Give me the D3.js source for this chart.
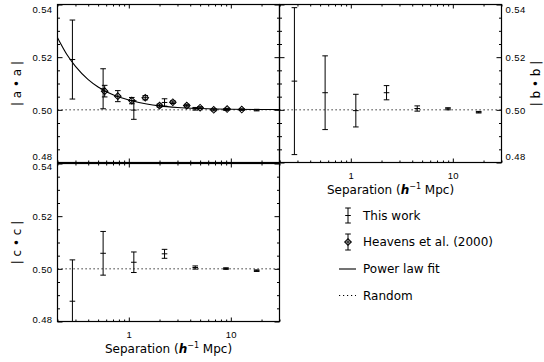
<!DOCTYPE html>
<html>
<head>
<meta charset="utf-8">
<script src="https://cdn.jsdelivr.net/npm/d3@7"></script>
<style>
  body { margin: 0; background: #fff; }
  svg { display: block; font-family: "DejaVu Sans", sans-serif; }
  .tick line { stroke: #000; }
  .tick text { font-size: 9.5px; letter-spacing: 0.4px; fill: #000; }
</style>
</head>
<body>
<div id="chart"></div>
<script>
// separations (h^-1 Mpc) of this work's bins
var sepThisWork = [0.28, 0.56, 1.12, 2.24, 4.48, 8.96, 17.92];

var aaThisWork    = [0.5191, 0.5080, 0.4999, 0.5028, 0.5004, 0.5001, 0.4999];
var aaThisWorkErr = [0.0150, 0.0076, 0.0035, 0.0014, 0.0005, 0.0003, 0.0003];

var bbThisWork    = [0.5109, 0.5065, 0.4997, 0.5065, 0.5005, 0.5004, 0.4991];
var bbThisWorkErr = [0.0279, 0.0140, 0.0062, 0.0027, 0.0010, 0.0004, 0.0003];

var ccThisWork    = [0.4877, 0.5059, 0.5025, 0.5057, 0.5005, 0.5001, 0.4993];
var ccThisWorkErr = [0.0157, 0.0083, 0.0039, 0.0017, 0.0006, 0.0003, 0.0003];

// Heavens et al. (2000), |a.a| only
var sepHeavens   = [0.58, 0.78, 1.07, 1.45, 2.0, 2.7, 3.7, 5.0, 6.8, 9.2, 12.8];
var aaHeavens    = [0.5071, 0.5052, 0.5035, 0.5046, 0.5016, 0.5029, 0.5016, 0.5008, 0.5000, 0.5003, 0.5001];
var aaHeavensErr = [0.0022, 0.0021, 0.0012, 0.0008, 0.0006, 0.0005, 0.0005, 0.0004, 0.0004, 0.0003, 0.0003];

// power law fit
var fitSep = [0.2, 0.25, 0.3, 0.4, 0.5, 0.7, 1, 1.5, 2, 3, 5, 10, 30];
var fitAA  = [0.5274, 0.5207, 0.5165, 0.5115, 0.5087, 0.5057, 0.5037, 0.5022, 0.5015, 0.5009, 0.5005, 0.5002, 0.5001];

var randomLevel = 0.5;

var yTicks = [0.48, 0.50, 0.52, 0.54];
var yTickLabels = ["0.48", "0.50", "0.52", "0.54"];
var yMinorTicks = [0.485, 0.49, 0.495, 0.505, 0.51, 0.515, 0.525, 0.53, 0.535];
var xTicks = [1, 10];
var xTickLabels = ["1", "10"];
var xMinorTicks = [0.2, 0.3, 0.4, 0.5, 0.6, 0.7, 0.8, 0.9, 2, 3, 4, 5, 6, 7, 8, 9, 20, 30];

var legendNames = ["This work", "Heavens et al. (2000)", "Power law fit", "Random"];

var W = 544, H = 362;
var pw = 222, ph = 158;

var svg = d3.select("#chart").append("svg")
            .attr("width", W)
            .attr("height", H);

var panels = [
   {x0: 57.5,  y0: 4.5,   vals: aaThisWork, errs: aaThisWorkErr, title: "| a \u2022 a |",
    side: "left", xLabels: false, heavens: true, top: true},
   {x0: 279.5, y0: 4.5,   vals: bbThisWork, errs: bbThisWorkErr, title: "| b \u2022 b |",
    side: "right", xLabels: true, heavens: false, top: true},
   {x0: 57.5,  y0: 163.5, vals: ccThisWork, errs: ccThisWorkErr, title: "| c \u2022 c |",
    side: "left", xLabels: true, heavens: false, top: false}
];

var errorBar = function(g, x, y, yLo, yHi, cap) {
   var p = d3.path();
   p.moveTo(x, yLo); p.lineTo(x, yHi);
   p.moveTo(x - cap, yLo); p.lineTo(x + cap, yLo);
   p.moveTo(x - cap, yHi); p.lineTo(x + cap, yHi);
   p.moveTo(x - cap, y); p.lineTo(x + cap, y);
   g.append("path")
      .attr("d", p.toString())
      .attr("stroke", "black")
      .attr("stroke-width", 1)
      .attr("fill", "none");
}

panels.forEach(function(pn, i) {
   var x = d3.scaleLog().domain([0.2, 30]).range([pn.x0, pn.x0 + pw]);
   var y = d3.scaleLinear().domain([0.48, 0.54]).range([pn.y0 + ph, pn.y0]);
   var g = svg.append("g");

   var clipId = "clip" + i;
   svg.append("clipPath").attr("id", clipId)
      .append("rect")
      .attr("x", pn.x0).attr("y", pn.y0)
      .attr("width", pw).attr("height", ph);

   // ticks on all four sides, pointing inward
   var addAxis = function(axis, tx, ty) {
      var a = g.append("g")
         .attr("transform", "translate(" + tx + "," + ty + ")")
         .call(axis);
      a.select(".domain").remove();
      return a;
   };
   addAxis(d3.axisBottom(x).tickValues(xMinorTicks).tickSize(-2).tickFormat(""), 0, pn.y0 + ph);
   addAxis(d3.axisTop(x).tickValues(xMinorTicks).tickSize(-2).tickFormat(""), 0, pn.y0);
   addAxis(d3.axisTop(x).tickValues(xTicks).tickSize(-4).tickFormat(""), 0, pn.y0);
   addAxis(d3.axisBottom(x).tickValues(xTicks).tickSize(-4)
            .tickPadding(9.5)
            .tickFormat(function(d, k) { return pn.xLabels ? xTickLabels[k] : ""; }),
           0, pn.y0 + ph);

   addAxis(d3.axisLeft(y).tickValues(yMinorTicks).tickSize(-2.5).tickFormat(""), pn.x0, 0);
   addAxis(d3.axisRight(y).tickValues(yMinorTicks).tickSize(-2.5).tickFormat(""), pn.x0 + pw, 0);
   var labelFmt = function(d, k) { return yTickLabels[k]; };
   var yl, yr;
   if (pn.side === "left") {
      yl = addAxis(d3.axisLeft(y).tickValues(yTicks).tickSize(-5).tickPadding(5).tickFormat(labelFmt), pn.x0, 0);
      yr = addAxis(d3.axisRight(y).tickValues(yTicks).tickSize(-5).tickFormat(""), pn.x0 + pw, 0);
   } else {
      yl = addAxis(d3.axisLeft(y).tickValues(yTicks).tickSize(-5).tickFormat(""), pn.x0, 0);
      yr = addAxis(d3.axisRight(y).tickValues(yTicks).tickSize(-5).tickPadding(4).tickFormat(labelFmt), pn.x0 + pw, 0);
   }
   // end labels nudged inward, as in the original
   [yl, yr].forEach(function(a) {
      a.selectAll(".tick text")
       .attr("dy", function(d) {
          if (d === 0.54) return pn.top ? "0.8em" : "0.6em";
          if (d === 0.48) return pn.top ? "-0.3em" : "0.1em";
          return "0.35em";
       });
   });

   // frame
   g.append("rect")
      .attr("x", pn.x0).attr("y", pn.y0)
      .attr("width", pw).attr("height", ph)
      .attr("fill", "none")
      .attr("stroke", "black")
      .attr("stroke-width", 1.2);

   var inner = g.append("g").attr("clip-path", "url(#" + clipId + ")");

   // random level
   inner.append("line")
      .attr("x1", pn.x0).attr("x2", pn.x0 + pw)
      .attr("y1", y(randomLevel)).attr("y2", y(randomLevel))
      .attr("stroke", "black")
      .attr("stroke-width", 1)
      .attr("stroke-dasharray", "1.2,2.8");

   if (pn.heavens) {
      var line = d3.line()
         .x(function(d, k) { return x(fitSep[k]); })
         .y(function(d) { return y(d); })
         .curve(d3.curveMonotoneX);
      inner.append("path")
         .attr("d", line(fitAA))
         .attr("fill", "none")
         .attr("stroke", "black")
         .attr("stroke-width", 1.1);

      sepHeavens.forEach(function(s, k) {
         var cx = x(s), cy = y(aaHeavens[k]);
         errorBar(inner, cx, cy, y(aaHeavens[k] - aaHeavensErr[k]), y(aaHeavens[k] + aaHeavensErr[k]), 2.8);
         inner.append("path")
            .attr("d", d3.symbol(d3.symbolSquare, 22)())
            .attr("transform", "translate(" + cx + "," + cy + ") rotate(45)")
            .attr("fill", "none")
            .attr("stroke", "black")
            .attr("stroke-width", 1);
      });
   }

   sepThisWork.forEach(function(s, k) {
      var v = pn.vals[k], e = pn.errs[k];
      errorBar(inner, x(s), y(v), y(v - e), y(v + e), 2.8);
   });

   // axis titles
   if (pn.xLabels) {
      var t = g.append("text")
         .attr("x", pn.x0 + pw / 2)
         .attr("y", pn.y0 + ph + 31)
         .attr("text-anchor", "middle")
         .attr("font-size", 12);
      t.append("tspan").text("Separation (");
      t.append("tspan").attr("font-style", "italic").attr("font-weight", "bold").text("h");
      t.append("tspan").attr("font-size", 8).attr("dy", -5).text("\u22121");
      t.append("tspan").attr("dy", 5).text(" Mpc)");
   }
   var tx = pn.side === "left" ? 21 : 540;
   g.append("text")
      .attr("transform", "translate(" + tx + "," + (pn.y0 + ph / 2) + ") rotate(-90)")
      .attr("text-anchor", "middle")
      .attr("font-size", 12)
      .text(pn.title);
});

// legend
var lg = svg.append("g").attr("font-size", 12);
var lx = 348, ltx = 363;
var lys = [215.5, 242, 269, 295.5];

errorBar(lg, lx, lys[0], lys[0] + 7.5, lys[0] - 7.5, 2.8);
errorBar(lg, lx, lys[1], lys[1] + 8, lys[1] - 8, 2.8);
lg.append("path")
   .attr("d", d3.symbol(d3.symbolSquare, 22)())
   .attr("transform", "translate(" + lx + "," + lys[1] + ") rotate(45)")
   .attr("fill", "none")
   .attr("stroke", "black");
lg.append("line")
   .attr("x1", 339).attr("x2", 356)
   .attr("y1", lys[2]).attr("y2", lys[2])
   .attr("stroke", "black").attr("stroke-width", 1.1);
lg.append("line")
   .attr("x1", 339).attr("x2", 356)
   .attr("y1", lys[3]).attr("y2", lys[3])
   .attr("stroke", "black").attr("stroke-dasharray", "1.2,2.8");

legendNames.forEach(function(name, k) {
   lg.append("text")
      .attr("x", ltx)
      .attr("y", lys[k] + 4.3)
      .text(name);
});
</script>
</body>
</html>
